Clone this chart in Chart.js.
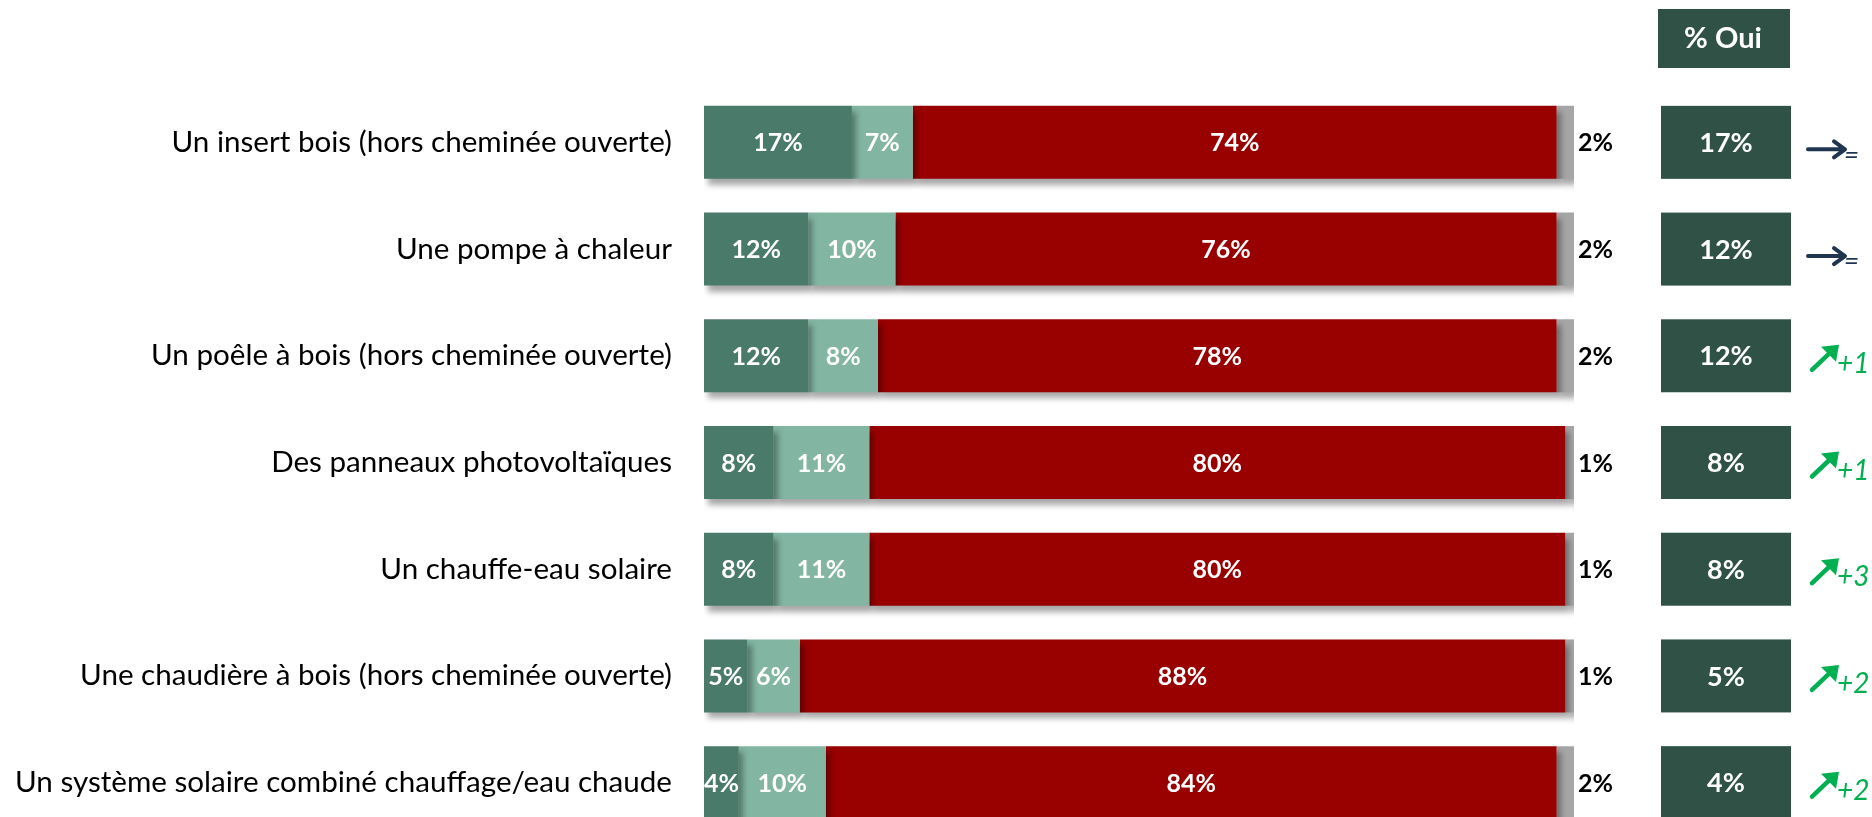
<!DOCTYPE html>
<html lang="fr">
<head>
<meta charset="utf-8">
<title>Équipements</title>
<script src="https://cdn.jsdelivr.net/npm/chart.js@4/dist/chart.umd.min.js"></script>
<style>
  html, body { margin: 0; padding: 0; background: #fff; overflow: hidden; }
  #equipChart { display: block; }
</style>
</head>
<body>
<canvas id="equipChart" width="1872" height="837"></canvas>
<script>
// données du graphique
const categories = [
    'Un insert bois (hors cheminée ouverte)',
    'Une pompe à chaleur',
    'Un poêle à bois (hors cheminée ouverte)',
    'Des panneaux photovoltaïques',
    'Un chauffe-eau solaire',
    'Une chaudière à bois (hors cheminée ouverte)',
    'Un système solaire combiné chauffage/eau chaude'
];
const partOui = [17, 12, 12, 8, 8, 5, 4];
const partEnvisage = [7, 10, 8, 11, 11, 6, 10];
const partNon = [74, 76, 78, 80, 80, 88, 84];
const partNsp = [2, 2, 2, 1, 1, 1, 2];
const totalOui = [17, 12, 12, 8, 8, 5, 4];
const evolution = ['=', '=', '+1', '+1', '+3', '+2', '+2'];

const COLORS = ['#4A7A69', '#82B6A2', '#990000', '#A6A6A6'];
const BOX = '#2F5146';

// flèche horizontale (stable)
function drawFlatArrow(ctx, x, y) {
    ctx.save();
    ctx.strokeStyle = '#1F3550';
    ctx.lineWidth = 4;
    ctx.lineCap = 'round';
    ctx.lineJoin = 'round';
    ctx.beginPath();
    ctx.moveTo(x, y);
    ctx.lineTo(x + 36, y);
    ctx.moveTo(x + 26, y - 8);
    ctx.lineTo(x + 37, y);
    ctx.lineTo(x + 26, y + 8);
    ctx.stroke();
    ctx.restore();
}

// flèche montante (hausse)
function drawUpArrow(ctx, x, y) {
    ctx.save();
    ctx.strokeStyle = '#00B050';
    ctx.fillStyle = '#00B050';
    ctx.lineWidth = 4.5;
    ctx.lineCap = 'round';
    ctx.beginPath();
    ctx.moveTo(x, y + 11);
    ctx.lineTo(x + 20, y - 8);
    ctx.stroke();
    ctx.beginPath();
    ctx.moveTo(x + 27, y - 14);
    ctx.lineTo(x + 9, y - 12);
    ctx.lineTo(x + 24, y + 3);
    ctx.closePath();
    ctx.fill();
    ctx.restore();
}

const barLabels = {
    id: 'barLabels',
    beforeDatasetDraw(chart) {
        const ctx = chart.ctx;
        ctx.save();
        ctx.shadowColor = 'rgba(0, 0, 0, 0.35)';
        ctx.shadowBlur = 6;
        ctx.shadowOffsetX = 4;
        ctx.shadowOffsetY = 6;
    },
    afterDatasetDraw(chart) {
        chart.ctx.restore();
    },
    afterDatasetsDraw(chart) {
        const ctx = chart.ctx;
        ctx.save();
        ctx.textBaseline = 'middle';
        chart.data.datasets.forEach((ds, i) => {
            const meta = chart.getDatasetMeta(i);
            meta.data.forEach((bar, j) => {
                const p = bar.getProps(['x', 'y', 'base'], true);
                const txt = ds.data[j] + '%';
                ctx.font = 'bold 25px Lato';
                if (i === 3) {
                    ctx.fillStyle = '#000';
                    ctx.textAlign = 'left';
                    ctx.fillText(txt, p.x + 4, p.y + 1);
                } else {
                    ctx.fillStyle = '#fff';
                    ctx.textAlign = 'center';
                    ctx.fillText(txt, (p.x + p.base) / 2, p.y + 1);
                }
            });
        });

        // colonne "% Oui"
        const area = chart.chartArea;
        const boxL = area.right + 87;
        const boxW = 130;
        ctx.fillStyle = BOX;
        ctx.fillRect(boxL - 3, 9, boxW + 2, 59);
        ctx.fillStyle = '#fff';
        ctx.textAlign = 'center';
        ctx.font = 'bold 29px Lato';
        ctx.fillText('% Oui', boxL + boxW / 2 - 3, 39);

        const meta0 = chart.getDatasetMeta(0);
        meta0.data.forEach((bar, j) => {
            const p = bar.getProps(['y', 'height'], true);
            ctx.fillStyle = BOX;
            ctx.fillRect(boxL, p.y - p.height / 2, boxW, p.height);
            ctx.fillStyle = '#fff';
            ctx.textAlign = 'center';
            ctx.font = 'bold 27px Lato';
            ctx.fillText(totalOui[j] + '%', boxL + boxW / 2, p.y + 1);

            const ax = boxL + boxW + 17;
            if (evolution[j] === '=') {
                drawFlatArrow(ctx, ax, p.y + 7);
                ctx.fillStyle = '#1F3550';
                ctx.textAlign = 'left';
                ctx.font = 'italic 26px Lato';
                ctx.fillText('=', ax + 36, p.y + 13);
            } else {
                drawUpArrow(ctx, ax + 4, p.y + 3);
                ctx.fillStyle = '#00B050';
                ctx.textAlign = 'left';
                ctx.font = 'italic 28px Lato';
                ctx.fillText(evolution[j], ax + 29, p.y + 8);
            }
        });
        ctx.restore();
    }
};

const ctx = document.getElementById('equipChart');
new Chart(ctx, {
    type: 'bar',
    data: {
        labels: categories,
        datasets: [
            { label: 'Oui', data: partOui, backgroundColor: COLORS[0] },
            { label: 'Envisagé', data: partEnvisage, backgroundColor: COLORS[1] },
            { label: 'Non', data: partNon, backgroundColor: COLORS[2] },
            { label: 'NSP', data: partNsp, backgroundColor: COLORS[3] }
        ]
    },
    options: {
        indexAxis: 'y',
        responsive: false,
        animation: false,
        barPercentage: 0.684,
        categoryPercentage: 1,
        layout: {
            padding: { top: 89, right: 298, bottom: 1, left: 0 }
        },
        plugins: {
            legend: { display: false },
            tooltip: { enabled: false }
        },
        scales: {
            x: {
                stacked: true,
                min: 0,
                max: 100,
                display: false
            },
            y: {
                stacked: true,
                grid: { display: false, drawTicks: false },
                border: { display: false },
                ticks: {
                    padding: 32,
                    color: '#000',
                    font: { family: 'Lato', size: 29.6 }
                },
                afterFit(scale) {
                    // largeur fixe, pas de marge haute/basse pour les libellés
                    scale.width = 704;
                    scale.paddingTop = 0;
                    scale.paddingBottom = 0;
                }
            }
        }
    },
    plugins: [barLabels]
});
</script>
</body>
</html>
